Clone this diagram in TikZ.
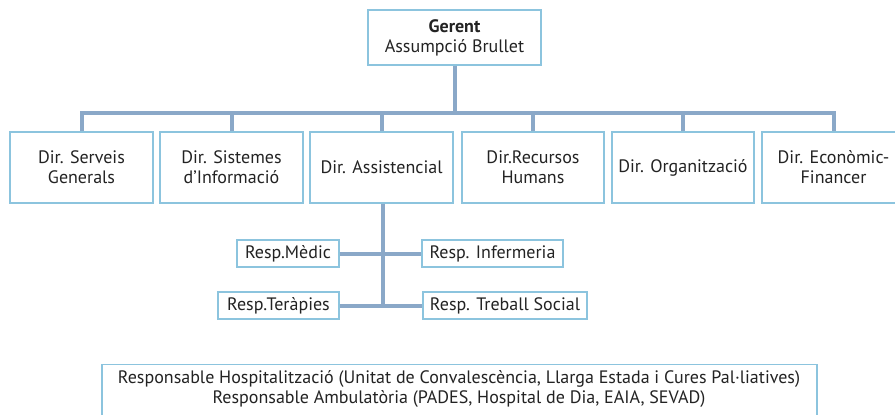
\documentclass[tikz,border=0pt]{standalone}
\usepackage{fontspec}
\setmainfont{PT Sans}
\definecolor{conncol}{RGB}{138,168,200}
\definecolor{boxcol}{RGB}{140,196,222}
\definecolor{txtcol}{RGB}{35,35,35}
\begin{document}
\begin{tikzpicture}[x=1pt,y=-1pt,
  box/.style={draw=boxcol, line width=1.2pt, fill=white, text=txtcol, align=center,
    inner sep=0pt, font=\fontsize{18}{20}\selectfont},
  lbl/.style={text=txtcol, inner sep=0pt, anchor=base, font=\fontsize{18}{20}\selectfont},
  conn/.style={draw=conncol, line width=4pt, line join=miter}]
\useasboundingbox (0,0) rectangle (895,415);
% boxes
\node[box, minimum width=173pt, minimum height=55pt] (g) at (454.5,37.5)
  {\textbf{Gerent}\\Assumpció Brullet};
\node[box, minimum width=143pt, minimum height=71pt] (d1) at (81.5,167.5) {Dir. Serveis\\Generals};
\node[box, minimum width=143pt, minimum height=71pt] (d2) at (231.5,167.5) {Dir. Sistemes\\d’Informació};
\node[box, minimum width=143pt, minimum height=71pt] (d3) at (381.5,167.5) {Dir. Assistencial};
\node[box, minimum width=142pt, minimum height=71pt] (d4) at (533,167.5) {Dir.Recursos\\Humans};
\node[box, minimum width=142pt, minimum height=71pt] (d5) at (683,167.5) {Dir. Organització};
\node[box, minimum width=143pt, minimum height=71pt] (d6) at (833.5,167.5) {Dir. Econòmic-\\Financer};
\node[box, minimum width=102pt, minimum height=27pt] (rm) at (288,253.5) {Resp.Mèdic};
\node[box, minimum width=141pt, minimum height=27pt] (ri) at (492.5,253.5) {Resp. Infermeria};
\node[box, minimum width=121pt, minimum height=27pt] (rt) at (278.5,305.5) {Resp.Teràpies};
\node[box, minimum width=164pt, minimum height=27pt] (rs) at (505,305.5) {Resp. Treball Social};
\node[box, minimum width=715pt, minimum height=70pt, anchor=north] (rh) at (459.5,364) {};
\node[lbl] (rh1) at (459,383)
  {Responsable Hospitalització (Unitat de Convalescència, Llarga Estada i Cures Pal·liatives)};
\node[lbl] (rh2) at (459,403)
  {Responsable Ambulatòria (PADES, Hospital de Dia, EAIA, SEVAD)};
% connectors
\coordinate (bus) at (0,113);
\draw[conn] (g.south) -- (g.south |- bus);
\draw[conn] (d1.north) -- (d1.north |- bus) -- (d6.north |- bus) -- (d6.north);
\foreach \d in {d2,d3,d4,d5} \draw[conn] (\d.north) -- (\d.north |- bus);
\coordinate (vx) at (383,0);
\draw[conn] (vx |- d3.south) -- (vx |- rt.east);
\draw[conn] (rm.east) -- (ri.west);
\draw[conn] (rt.east) -- (rs.west);
\end{tikzpicture}
\end{document}
